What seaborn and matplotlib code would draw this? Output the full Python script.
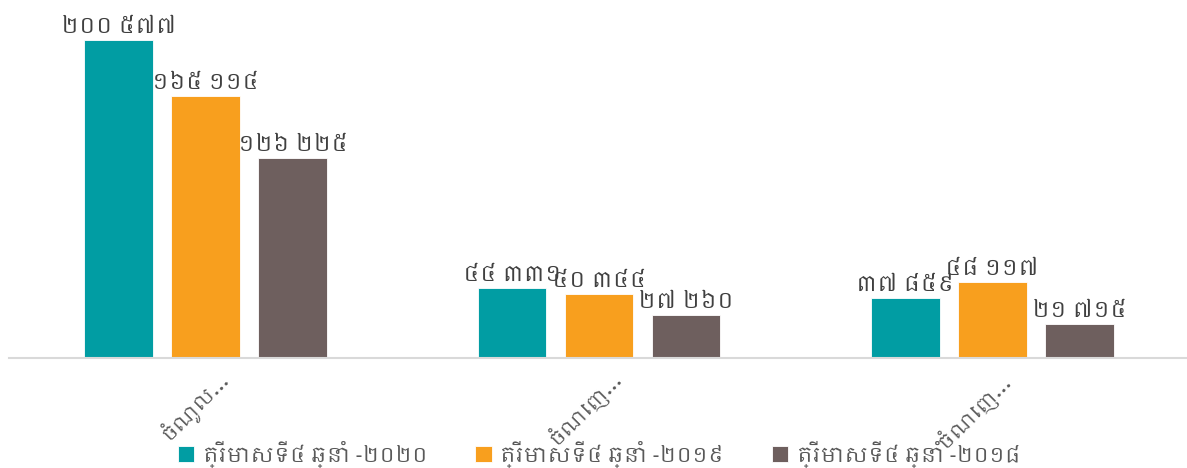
import matplotlib
matplotlib.use("Agg")
import matplotlib.pyplot as plt
from matplotlib import font_manager
import matplotlib.transforms as mtrans
import seaborn as sns
import pandas as pd

categories = ["ចំណូល…", "ចំណេញ…", "ចំណេញ… "]
series = ["ត្រីមាសទី៤ ឆ្នាំ -២០២០", "ត្រីមាសទី៤ ឆ្នាំ -២០១៩", "ត្រីមាសទី៤ ឆ្នាំ -២០១៨"]
values_2020 = [200577, 44331, 37859]
values_2019 = [165114, 40344, 48117]
values_2018 = [126225, 27260, 21715]
colors = ["#019DA3", "#F89F1E", "#6E5F5E"]

khmer_digits = "០១២៣៤៥៦៧៨៩"


def khmer_number(v):
    s = f"{v:,}".replace(",", " ")
    return "".join(khmer_digits[int(c)] if c.isdigit() else c for c in s)


sns.set_theme(style="white")
fams = []
for f in font_manager.fontManager.ttflist:
    if "khmer" in f.name.lower() and f.name not in fams:
        fams.append(f.name)
plt.rcParams["font.family"] = fams + ["DejaVu Sans"]

rows = []
for name, vals in zip(series, [values_2020, values_2019, values_2018]):
    for c, v in zip(categories, vals):
        rows.append({"cat": c, "series": name, "value": v})
df = pd.DataFrame(rows)

fig = plt.figure(figsize=(11.87, 4.68), dpi=100)
ax = fig.add_axes([9 / 1187, 110 / 468, 1180 / 1187, 353 / 468])
sns.barplot(data=df, x="cat", y="value", hue="series", palette=colors,
            saturation=1, width=0.663, gap=0.21, ax=ax, edgecolor="white",
            linewidth=0.6, legend=True)
ax.set_xlim(-0.5, 2.5)
ax.set_ylim(0, 222600)
textc = "#404040"
for cont in ax.containers:
    labels = [khmer_number(int(v)) for v in cont.datavalues]
    ax.bar_label(cont, labels=labels, padding=2, fontsize=16, color=textc)

for s in ["top", "right", "left"]:
    ax.spines[s].set_visible(False)
ax.spines["bottom"].set_color("#D9D9D9")
ax.spines["bottom"].set_linewidth(1.5)
ax.set_yticks([])
ax.set_xlabel("")
ax.set_ylabel("")
ax.tick_params(axis="x", length=0, pad=6)
ax.set_xticks([0, 1, 2])
ax.set_xticklabels(categories, rotation=45, ha="right", rotation_mode="anchor",
                   fontsize=14, color="#595959")
offset = mtrans.ScaledTranslation(10 / 100, 0, fig.dpi_scale_trans)
for lbl in ax.get_xticklabels():
    lbl.set_transform(lbl.get_transform() + offset)

handles, labs = ax.get_legend_handles_labels()
ax.legend(handles, labs, loc="center", bbox_to_anchor=(0.5, (468 - 454 - 110) / 353),
          ncol=3, frameon=False, fontsize=15, labelcolor="#595959",
          handlelength=0.8, handleheight=0.8, handletextpad=0.4, columnspacing=2.3,
          borderaxespad=0)
fig.savefig("out.png", dpi=100)
